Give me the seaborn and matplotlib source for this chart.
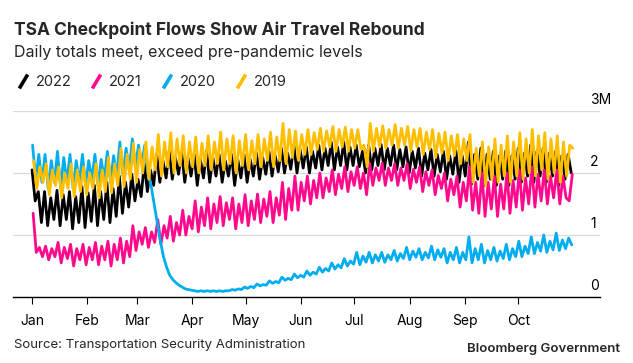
import numpy as np
import pandas as pd
import matplotlib
matplotlib.use("Agg")
import matplotlib.pyplot as plt
import matplotlib.dates as mdates
from matplotlib.lines import Line2D
from matplotlib.transforms import ScaledTranslation
import seaborn as sns

# ---- data: daily TSA throughput (millions), read every ~1.75 days, Jan 1 -> end Oct ----
years = ["2022", "2021", "2020", "2019"]
colors = ["#000000", "#FF0A8C", "#00AEEF", "#FFBF00"]
phase_days = [0.0, 0.6, 0.3, 0.9]   # weekday alignment of each year's calendar

y2022 = [2.05, 1.55, 1.7, 1.2, 1.7, 1.15, 1.6, 1.25, 1.72, 1.15, 1.65, 1.25,
         1.7, 1.1, 1.62, 1.2, 1.78, 1.12, 1.68, 1.22, 1.8, 1.15, 1.7, 1.25,
         1.85, 1.2, 1.75, 1.3, 1.95, 1.35, 1.85, 1.45, 1.98, 1.55, 1.9, 1.62,
         2.15, 1.7, 2.05, 1.8, 2.3, 1.85, 2.2, 1.92, 2.35, 1.9, 2.25, 1.98,
         2.33, 1.85, 2.25, 1.95, 2.3, 1.8, 2.22, 1.92, 2.35, 1.85, 2.25, 1.95,
         2.3, 1.85, 2.2, 1.95, 2.3, 1.8, 2.22, 1.92, 2.3, 1.85, 2.22, 1.95,
         2.32, 1.9, 2.25, 1.98, 2.35, 1.95, 2.28, 2.02, 2.4, 2.0, 2.32, 2.06,
         2.45, 2.0, 2.38, 2.08, 2.42, 2.0, 2.35, 2.08, 2.45, 2.05, 2.4, 2.12,
         2.5, 2.05, 2.42, 2.12, 2.5, 2.05, 2.42, 2.12, 2.45, 2.1, 2.35, 2.0,
         2.45, 2.05, 2.4, 2.12, 2.46, 2.05, 2.4, 2.12, 2.45, 2.05, 2.38, 2.1,
         2.42, 2.0, 2.35, 2.08, 2.4, 1.95, 2.32, 2.05, 2.38, 1.95, 2.3, 2.02,
         2.35, 1.9, 2.28, 1.98, 2.36, 1.85, 2.28, 1.95, 2.5, 1.82, 2.3, 1.9,
         2.4, 1.8, 2.3, 1.9, 2.35, 1.8, 2.28, 1.9, 2.36, 1.8, 2.28, 1.9,
         2.4, 1.85, 2.32, 1.95, 2.45, 1.85, 2.35, 1.95, 2.4, 1.85, 2.32, 1.95,
         2.35, 1.8, 2.28, 1.9, 2.3, 2.0]
y2021 = [1.35, 0.72, 0.8, 0.65, 0.82, 0.6, 0.78, 0.65, 0.88, 0.55, 0.8, 0.62,
         0.85, 0.5, 0.78, 0.6, 0.85, 0.52, 0.8, 0.6, 0.88, 0.52, 0.82, 0.6,
         0.9, 0.5, 0.85, 0.6, 0.95, 0.55, 0.9, 0.65, 1.15, 0.75, 1.05, 0.85,
         1.12, 0.8, 1.05, 0.88, 1.25, 0.85, 1.15, 0.95, 1.3, 0.9, 1.2, 1.0,
         1.4, 1.0, 1.3, 1.1, 1.55, 1.05, 1.45, 1.15, 1.6, 1.1, 1.5, 1.2,
         1.62, 1.15, 1.52, 1.25, 1.6, 1.1, 1.5, 1.2, 1.65, 1.15, 1.55, 1.25,
         1.66, 1.2, 1.58, 1.3, 1.7, 1.2, 1.6, 1.32, 1.85, 1.25, 1.75, 1.4,
         1.95, 1.4, 1.85, 1.55, 1.95, 1.5, 1.88, 1.6, 2.0, 1.6, 1.92, 1.7,
         2.05, 1.65, 1.98, 1.75, 2.1, 1.7, 2.02, 1.8, 2.1, 1.75, 2.0, 1.65,
         2.15, 1.8, 2.08, 1.88, 2.16, 1.8, 2.08, 1.88, 2.15, 1.8, 2.08, 1.88,
         2.15, 1.75, 2.06, 1.85, 2.1, 1.7, 2.02, 1.8, 2.05, 1.65, 1.96, 1.75,
         2.0, 1.55, 1.9, 1.65, 1.95, 1.45, 1.85, 1.55, 2.1, 1.4, 1.85, 1.35,
         2.0, 1.3, 1.85, 1.42, 1.95, 1.3, 1.82, 1.42, 2.0, 1.35, 1.88, 1.45,
         2.05, 1.4, 1.92, 1.5, 2.1, 1.45, 1.98, 1.55, 2.05, 1.5, 1.95, 1.6,
         2.05, 1.5, 1.95, 1.6, 1.55, 1.98]
y2020 = [2.45, 1.9, 2.3, 1.85, 2.3, 1.75, 2.2, 1.85, 2.35, 1.75, 2.25, 1.85,
         2.3, 1.75, 2.2, 1.85, 2.3, 1.8, 2.2, 1.9, 2.3, 1.8, 2.22, 1.9,
         2.35, 1.85, 2.28, 1.95, 2.5, 1.95, 2.4, 2.05, 2.55, 2.1, 2.45, 2.15,
         2.45, 2.0, 1.8, 1.5, 1.2, 0.9, 0.65, 0.48, 0.35, 0.28, 0.23, 0.19,
         0.16, 0.13, 0.12, 0.11, 0.1, 0.09, 0.1, 0.09, 0.1, 0.09, 0.1, 0.09,
         0.1, 0.09, 0.1, 0.1, 0.12, 0.11, 0.13, 0.12, 0.16, 0.14, 0.17, 0.15,
         0.21, 0.18, 0.2, 0.19, 0.26, 0.22, 0.25, 0.23, 0.32, 0.27, 0.3, 0.28,
         0.37, 0.31, 0.35, 0.32, 0.42, 0.35, 0.4, 0.37, 0.48, 0.4, 0.46, 0.42,
         0.55, 0.45, 0.52, 0.47, 0.62, 0.5, 0.58, 0.53, 0.72, 0.52, 0.66, 0.56,
         0.72, 0.55, 0.68, 0.58, 0.72, 0.56, 0.68, 0.6, 0.75, 0.58, 0.7, 0.62,
         0.8, 0.6, 0.74, 0.64, 0.78, 0.6, 0.72, 0.63, 0.82, 0.6, 0.76, 0.64,
         0.78, 0.55, 0.72, 0.6, 0.8, 0.55, 0.72, 0.6, 0.97, 0.55, 0.78, 0.6,
         0.85, 0.55, 0.75, 0.6, 0.8, 0.58, 0.74, 0.62, 0.85, 0.6, 0.78, 0.65,
         0.9, 0.65, 0.82, 0.7, 0.97, 0.7, 0.88, 0.74, 1.0, 0.72, 0.9, 0.76,
         1.03, 0.75, 0.92, 0.78, 0.95, 0.84]
y2019 = [2.2, 1.75, 2.1, 1.85, 2.15, 1.65, 2.05, 1.8, 2.1, 1.6, 2.0, 1.75,
         2.15, 1.62, 2.05, 1.7, 2.1, 1.65, 2.0, 1.75, 2.15, 1.6, 2.05, 1.7,
         2.25, 1.68, 2.15, 1.8, 2.4, 1.78, 2.3, 1.9, 2.48, 1.85, 2.38, 2.0,
         2.5, 1.9, 2.42, 2.05, 2.62, 1.95, 2.5, 2.1, 2.65, 2.0, 2.55, 2.12,
         2.6, 2.0, 2.5, 2.1, 2.58, 2.0, 2.48, 2.12, 2.6, 2.05, 2.5, 2.15,
         2.66, 2.05, 2.55, 2.15, 2.6, 2.0, 2.52, 2.12, 2.62, 2.05, 2.52, 2.15,
         2.62, 2.1, 2.55, 2.2, 2.66, 2.1, 2.58, 2.2, 2.8, 2.15, 2.7, 2.25,
         2.68, 2.2, 2.62, 2.3, 2.7, 2.3, 2.65, 2.38, 2.72, 2.35, 2.68, 2.42,
         2.75, 2.35, 2.7, 2.42, 2.74, 2.35, 2.7, 2.4, 2.7, 2.38, 2.45, 2.1,
         2.8, 2.35, 2.72, 2.42, 2.76, 2.4, 2.7, 2.45, 2.78, 2.4, 2.72, 2.45,
         2.75, 2.35, 2.7, 2.42, 2.72, 2.3, 2.66, 2.38, 2.7, 2.25, 2.64, 2.32,
         2.66, 2.2, 2.6, 2.28, 2.62, 2.15, 2.55, 2.2, 2.62, 1.85, 2.4, 1.95,
         2.5, 1.8, 2.42, 1.9, 2.55, 1.85, 2.45, 1.95, 2.6, 1.85, 2.5, 1.95,
         2.65, 1.9, 2.55, 2.0, 2.7, 1.95, 2.6, 2.05, 2.65, 1.9, 2.55, 2.0,
         2.6, 1.85, 2.5, 1.95, 2.45, 2.4]

month_labels = ["Jan", "Feb", "Mar", "Apr", "May", "Jun", "Jul", "Aug", "Sep", "Oct"]
ytick_vals = [0, 1, 2, 3]
ytick_labels = ["0", "1", "2", "3M"]

series = {"2022": y2022, "2021": y2021, "2020": y2020, "2019": y2019}
start = pd.Timestamp("2022-01-01")
step_days = 1.75
frames = []
for (yr, vals), ph in zip(series.items(), phase_days):
    d = start + pd.to_timedelta(ph + np.arange(len(vals)) * step_days, unit="D")
    frames.append(pd.DataFrame({"date": d, "value": vals, "year": yr}))
df = pd.concat(frames, ignore_index=True)

# ---- figure ----
sns.set_style("white")
plt.rcParams["font.family"] = ["Inter", "DejaVu Sans"]

W, H = 633, 363
fig = plt.figure(figsize=(W / 100, H / 100), dpi=100)
ax_l, ax_r, ax_b, ax_t = 13, 600, 297, 111
ax = fig.add_axes([ax_l / W, 1 - ax_b / H, (ax_r - ax_l) / W, (ax_b - ax_t) / H])

sns.lineplot(data=df, x="date", y="value", hue="year", hue_order=years,
             palette=colors, estimator=None, sort=False, linewidth=2.0,
             legend=False, ax=ax)

ax.set_ylim(0, 3)
ax.set_xlim(start - pd.Timedelta(days=10.7), start + pd.Timedelta(days=318.9))
ax.set_xlabel("")
ax.set_ylabel("")

# gridlines and right-side value labels sitting above them
ax.set_yticks(ytick_vals)
ax.set_yticklabels(ytick_labels)
ax.yaxis.grid(True, color="#dcdcdc", linewidth=1.0)
ax.set_axisbelow(True)
ax.yaxis.tick_right()
ax.tick_params(axis="y", length=0, pad=-7, labelsize=10, colors="#000000")
for lbl in ax.get_yticklabels():
    lbl.set_horizontalalignment("left")
    lbl.set_verticalalignment("bottom")
    lbl.set_transform(lbl.get_transform() + ScaledTranslation(0, 4 / 100, fig.dpi_scale_trans))

# x axis
ax.xaxis.set_major_locator(mdates.MonthLocator(bymonth=range(1, 11)))
ax.set_xticks(ax.get_xticks())
ax.set_xticklabels(month_labels)
ax.tick_params(axis="x", direction="out", length=5, width=0.8, pad=7,
               labelsize=10, colors="#000000", bottom=True)

for s in ["top", "left", "right"]:
    ax.spines[s].set_visible(False)
ax.spines["bottom"].set_color("#000000")
ax.spines["bottom"].set_linewidth(1.0)

# titles
fig.text(14 / W, 1 - 35 / H, "TSA Checkpoint Flows Show Air Travel Rebound",
         fontsize=12.5, fontweight="bold", ha="left", va="baseline")
fig.text(14 / W, 1 - 57 / H, "Daily totals meet, exceed pre-pandemic levels",
         fontsize=11.5, ha="left", va="baseline")

# legend
handles = [Line2D([], [], color=c, marker=[(-0.6, -1), (0.6, 1)], linestyle="None",
                  markersize=10, markeredgewidth=2.6, markeredgecolor=c)
           for c in colors]
fig.legend(handles, years, loc="upper left", bbox_to_anchor=(8 / W, 1 - 68 / H),
           ncol=4, frameon=False, fontsize=10.5, handlelength=1.0,
           handletextpad=0.4, columnspacing=1.2, borderpad=0)

# footer
fig.text(14 / W, 1 - 348 / H, "Source: Transportation Security Administration",
         fontsize=9.5, ha="left", va="baseline")
fig.text(620 / W, 1 - 352 / H, "Bloomberg Government",
         fontsize=9.5, fontweight="semibold", ha="right", va="baseline")

fig.savefig("out.png", dpi=100)
